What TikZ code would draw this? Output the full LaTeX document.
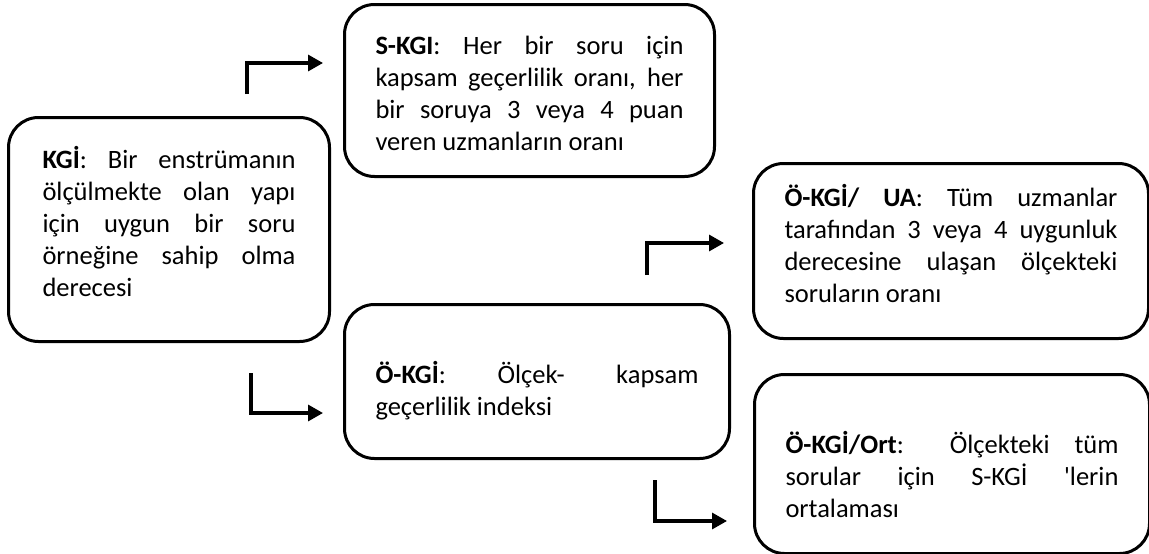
\documentclass[tikz,border=0pt]{standalone}
\usepackage{fontspec}
\setmainfont{Carlito}
\usetikzlibrary{arrows.meta}

\begin{document}
\begin{tikzpicture}[x=1pt,y=-1pt,line width=3pt]
    \tikzstyle{kutu}=[draw,rounded corners=30pt,anchor=north west,inner ysep=0pt,inner xsep=31pt,align=justify,font=\fontsize{26.5}{32}\selectfont]
    \tikzstyle{ok}=[-{Triangle[length=15pt,width=16pt]},line width=3.3pt]
\useasboundingbox (0,0) rectangle (1149,554);

% kutular
\node[kutu,inner xsep=34pt,text width=253pt,text height=51pt,text depth=173pt] (kgi) at (7,116)
  {\textbf{KGİ}: Bir enstrümanın\linebreak ölçülmekte olan yapı\linebreak için uygun bir soru\linebreak örneğine sahip olma\linebreak derecesi};
\node[kutu,text width=308pt,text height=50pt,text depth=122pt] (skgi) at (343,3)
  {\textbf{S-KGI}: Her bir soru için\linebreak kapsam geçerlilik oranı, her\linebreak bir soruya 3 veya 4 puan\linebreak veren uzmanların oranı};
\node[kutu,text width=323pt,text height=79pt,text depth=75pt] (okgi) at (343,303)
  {\textbf{Ö-KGİ}: Ölçek- kapsam\linebreak geçerlilik indeksi};
\node[kutu,text width=333pt,text height=43pt,text depth=132pt] (ua) at (752,162)
  {\textbf{Ö-KGİ/ UA}: Tüm uzmanlar\linebreak tarafından 3 veya 4 uygunluk\linebreak derecesine ulaşan ölçekteki\linebreak soruların oranı};
\node[kutu,text width=333pt,text height=79pt,text depth=100pt] (ort) at (753,373)
  {\textbf{Ö-KGİ/Ort}: Ölçekteki tüm\linebreak sorular için S-KGİ \textquotesingle lerin\linebreak ortalaması};

% oklar
\coordinate (k1) at (247,94);
\coordinate (s1) at (323,63);
\coordinate (k2) at (251,373);
\coordinate (o1) at (323,413);
\coordinate (o2) at (647,275);
\coordinate (u1) at (724,243);
\coordinate (o3) at (655,480);
\coordinate (r1) at (727,521);
\draw[ok] (k1) |- (s1);
\draw[ok] (k2) |- (o1);
\draw[ok] (o2) |- (u1);
\draw[ok] (o3) |- (r1);
\end{tikzpicture}
\end{document}
